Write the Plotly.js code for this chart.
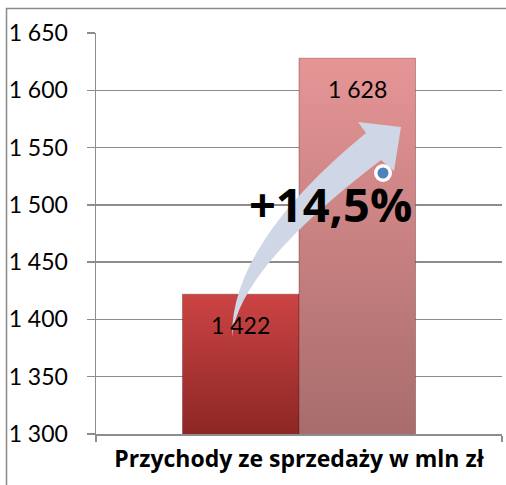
<!DOCTYPE html>
<html>
<head>
<meta charset="utf-8">
<script src="https://cdn.plot.ly/plotly-3.0.1.min.js"></script>
<style>
html,body{margin:0;padding:0;background:#fff;}
#chart{width:506px;height:485px;}
</style>
</head>
<body>
<div id="chart"></div>
<script>
// ---- data ----
const categories = ['Przychody ze sprzedaży w mln zł'];
const seriesNames = ['Rok poprzedni', 'Rok bieżący'];
const seriesValues = [[1422], [1628]];
const yTickValues = [1300, 1350, 1400, 1450, 1500, 1550, 1600, 1650];

// ---- layout geometry ----
const W = 506, H = 485;
const M = {l: 96, r: 4, t: 33, b: 51};
const PW = W - M.l - M.r, PH = H - M.t - M.b;
const px = X => (X - M.l) / PW;
const py = Y => (M.t + PH - Y) / PH;
const bargap = 0.426;
const barW = (1 - bargap) / 2;

const FONT = 'Lato, "Open Sans", sans-serif';
const BOLDFONT = '"Open Sans", Lato, sans-serif';
const GRID = '#8d8d8d';
const fmt = v => String(v).replace(/\B(?=(\d{3})+(?!\d))/g, ' ');

const barColors = ['#b33535', '#d08585'];
const traces = seriesValues.map((vals, i) => ({
  type: 'bar',
  name: seriesNames[i],
  x: categories,
  y: vals,
  marker: {color: barColors[i], line: {color: 'rgba(90,20,20,0.35)', width: 1}},
  hoverinfo: 'none'
}));

// data labels
const annotations = seriesValues.map((vals, i) => ({
  xref: 'x', yref: 'y',
  x: (i === 0 ? -1 : 1) * barW / 2,
  y: vals[0],
  yshift: -31,
  text: fmt(vals[0]),
  showarrow: false,
  xanchor: 'center', yanchor: 'middle',
  font: {family: FONT, size: 23, color: '#000'}
}));

// growth text computed from data
const pct = (seriesValues[1][0] / seriesValues[0][0] - 1) * 100;
annotations.push({
  xref: 'paper', yref: 'paper',
  x: px(330), y: py(204),
  text: '<b>+' + pct.toFixed(1).replace('.', ',') + '%</b>',
  showarrow: false,
  xanchor: 'center', yanchor: 'middle',
  font: {family: BOLDFONT, size: 47, color: '#000'}
});

// decorative curved arrow (pixel geometry converted to paper)
const P = (X, Y) => px(X).toFixed(4) + ',' + py(Y).toFixed(4);
const arrowPath =
  'M' + P(232, 337) +
  ' Q' + P(230.5, 244) + ' ' + P(366, 133) +
  ' L' + P(358, 122) +
  ' L' + P(401, 127) +
  ' L' + P(394, 171) +
  ' L' + P(381, 160) +
  ' Q' + P(238, 269) + ' ' + P(232, 337) + ' Z';

const shapes = [
  // outer frame (left + top)
  {type: 'path', xref: 'paper', yref: 'paper',
   path: 'M' + P(6.5, 490) + ' L' + P(6.5, 8.5) + ' L' + P(510, 8.5),
   line: {color: '#8a8a8a', width: 1.5}, layer: 'above'},
  {type: 'path', xref: 'paper', yref: 'paper', path: arrowPath,
   fillcolor: 'rgb(207,215,230)', line: {width: 0}, layer: 'above'},
  {type: 'circle', xref: 'paper', yref: 'paper',
   x0: px(374), x1: px(392), y0: py(182), y1: py(164),
   fillcolor: '#ffffff', line: {width: 0}, layer: 'above'},
  {type: 'circle', xref: 'paper', yref: 'paper',
   x0: px(377.5), x1: px(388.5), y0: py(178.5), y1: py(167.5),
   fillcolor: '#4f81bd', line: {width: 0}, layer: 'above'}
];

const layout = {
  width: W, height: H,
  margin: M,
  paper_bgcolor: '#fff', plot_bgcolor: '#fff',
  showlegend: false,
  separators: ', ',
  barmode: 'group', bargap: bargap, bargroupgap: 0,
  font: {family: FONT, color: '#000'},
  xaxis: {
    type: 'category',
    range: [-0.5, 0.5],
    showgrid: false,
    showline: true, linecolor: GRID, linewidth: 1.5,
    ticks: 'outside', tickson: 'boundaries', ticklen: 6, tickcolor: GRID, tickwidth: 1.5,
    tickfont: {family: BOLDFONT, size: 23, color: '#000', weight: 'bold'},
    ticklabelstandoff: 4,
    fixedrange: true
  },
  yaxis: {
    range: [1300, 1650],
    tickvals: yTickValues,
    tickformat: ',d',
    showgrid: true, gridcolor: GRID, gridwidth: 1.5,
    showline: true, linecolor: GRID, linewidth: 1.5,
    zeroline: false,
    ticks: 'outside', ticklen: 8, tickcolor: GRID, tickwidth: 1.5,
    tickfont: {family: FONT, size: 23, color: '#000'},
    ticklabelstandoff: 14,
    fixedrange: true
  },
  annotations: annotations,
  shapes: shapes
};

Plotly.newPlot('chart', traces, layout, {displayModeBar: false, staticPlot: true}).then(gd => {
  // vertical gradients on the visible part of each bar
  const svg = gd.querySelector('svg.main-svg');
  let defs = svg.querySelector('defs');
  const NS = 'http://www.w3.org/2000/svg';
  const stops = [['#cc4444', '#8c2725'], ['#e69595', '#a86c6c']];
  gd.querySelectorAll('.barlayer .trace').forEach((t, i) => {
    t.querySelectorAll('path').forEach(p => {
      const bb = p.getBBox();
      const g = document.createElementNS(NS, 'linearGradient');
      g.setAttribute('id', 'bargrad' + i);
      g.setAttribute('gradientUnits', 'userSpaceOnUse');
      g.setAttribute('x1', '0'); g.setAttribute('y1', String(bb.y));
      g.setAttribute('x2', '0'); g.setAttribute('y2', String(PH));
      [['0', stops[i][0]], ['1', stops[i][1]]].forEach(([o, c]) => {
        const st = document.createElementNS(NS, 'stop');
        st.setAttribute('offset', o);
        st.setAttribute('stop-color', c);
        g.appendChild(st);
      });
      defs.appendChild(g);
      p.style.setProperty('fill', 'url(#bargrad' + i + ')');
    });
  });
});
</script>
</body>
</html>
